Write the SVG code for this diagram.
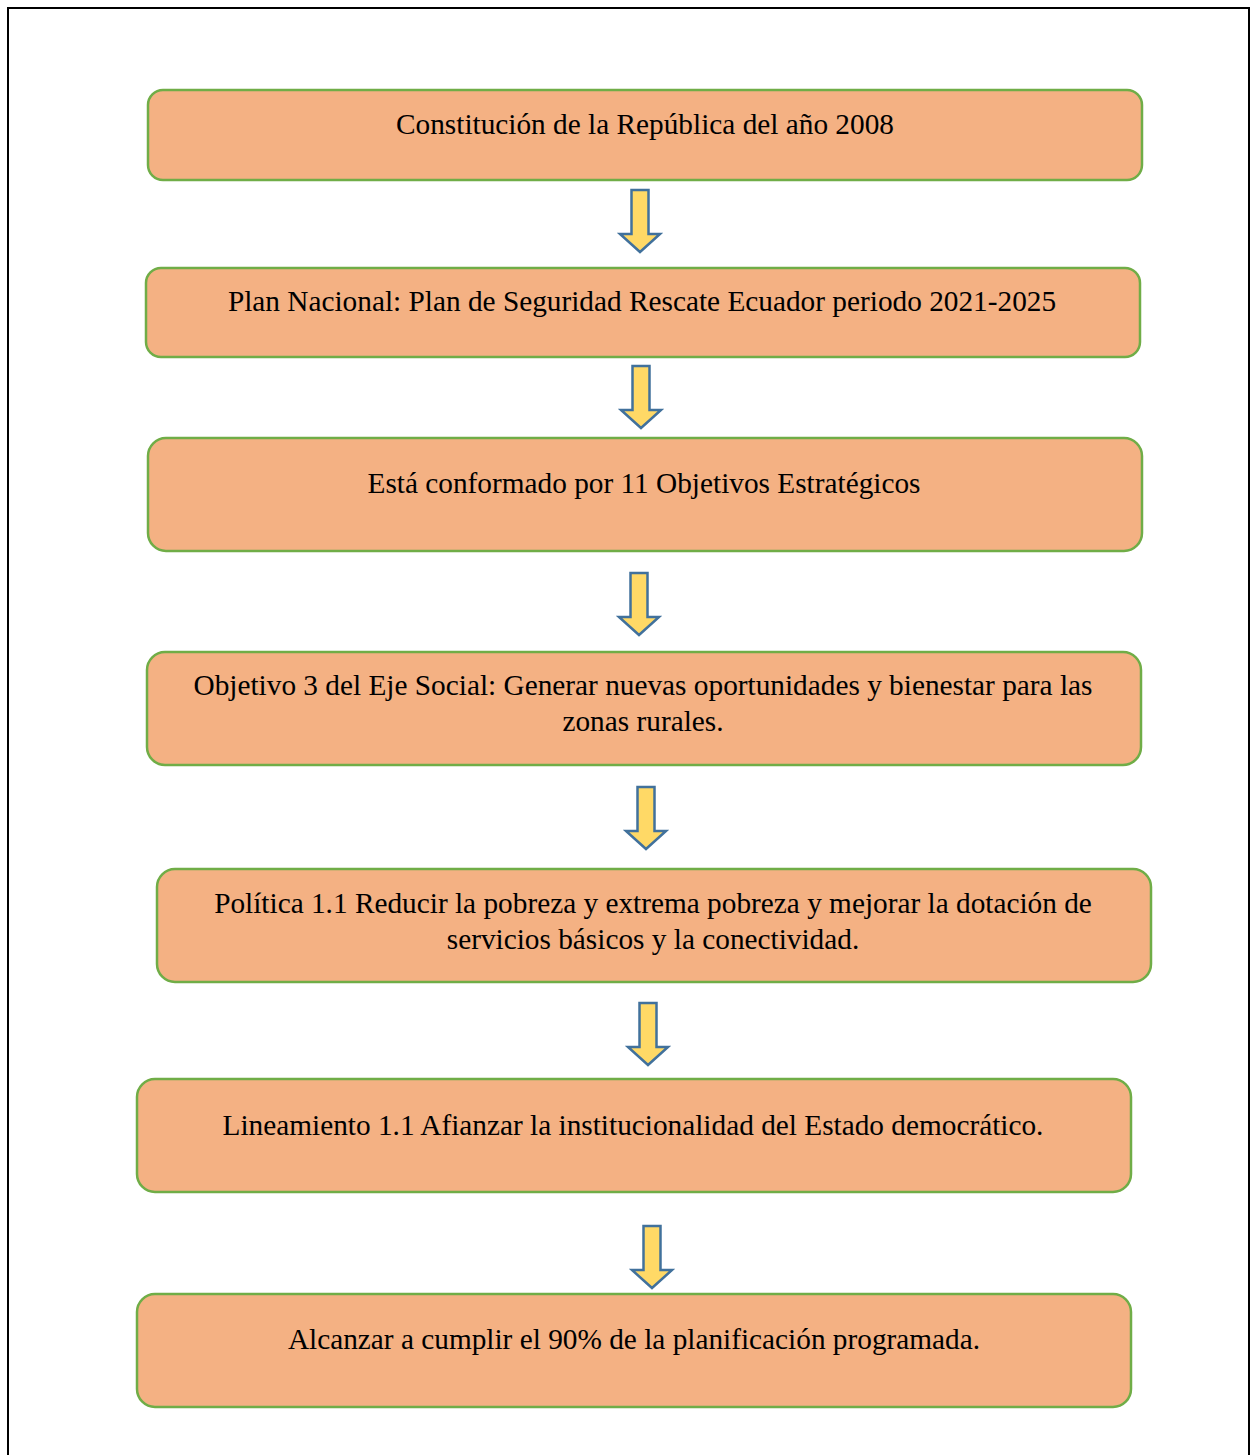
<svg xmlns="http://www.w3.org/2000/svg" width="1251" height="1455" viewBox="0 0 1251 1455">
  <defs>
    <style>
      .box { fill: #F4B183; stroke: #70AD47; stroke-width: 2.5; }
      .lbl { font-family: 'Liberation Serif', 'Times New Roman', serif; font-size: 29.3px; fill: #000; text-anchor: middle; }
      .arr { fill: #FFD966; stroke: #41719C; stroke-width: 2.5; stroke-linejoin: miter; }
    </style>
    <!-- down arrow; local origin is the top centre of the shaft -->
    <path id="down" class="arr" d="M-8.5,0 H8.5 V44 H20 L0,62 L-20,44 H-8.5 Z"/>
  </defs>
  <rect x="0" y="0" width="1251" height="1455" fill="#fff"/>
  <!-- page frame -->
  <path d="M8,1455 V8 H1249 V1455" fill="none" stroke="#000" stroke-width="2"/>

  <g id="n1">
    <rect class="box" x="148" y="90" width="994" height="90" rx="15"/>
    <text class="lbl" x="645" y="134">Constitución de la República del año 2008</text>
  </g>
  <g id="n2">
    <rect class="box" x="146" y="268" width="994" height="89" rx="15"/>
    <text class="lbl" x="642" y="311">Plan Nacional: Plan de Seguridad Rescate Ecuador periodo 2021-2025</text>
  </g>
  <g id="n3">
    <rect class="box" x="148" y="438" width="994" height="113" rx="18"/>
    <text class="lbl" x="644" y="493">Está conformado por 11 Objetivos Estratégicos</text>
  </g>
  <g id="n4">
    <rect class="box" x="147" y="652" width="994" height="113" rx="18"/>
    <text class="lbl" x="643" y="695">Objetivo 3 del Eje Social: Generar nuevas oportunidades y bienestar para las</text>
    <text class="lbl" x="643" y="731">zonas rurales.</text>
  </g>
  <g id="n5">
    <rect class="box" x="157" y="869" width="994" height="113" rx="18"/>
    <text class="lbl" x="653" y="913">Política 1.1 Reducir la pobreza y extrema pobreza y mejorar la dotación de</text>
    <text class="lbl" x="653" y="949">servicios básicos y la conectividad.</text>
  </g>
  <g id="n6">
    <rect class="box" x="137" y="1079" width="994" height="113" rx="18"/>
    <text class="lbl" x="633" y="1135">Lineamiento 1.1 Afianzar la institucionalidad del Estado democrático.</text>
  </g>
  <g id="n7">
    <rect class="box" x="137" y="1294" width="994" height="113" rx="18"/>
    <text class="lbl" x="634" y="1349">Alcanzar a cumplir el 90% de la planificación programada.</text>
  </g>

  <g id="connectors">
    <use href="#down" x="640" y="190"/>
    <use href="#down" x="641" y="366"/>
    <use href="#down" x="639" y="573"/>
    <use href="#down" x="646" y="787"/>
    <use href="#down" x="648" y="1003"/>
    <use href="#down" x="652" y="1226"/>
  </g>
</svg>
